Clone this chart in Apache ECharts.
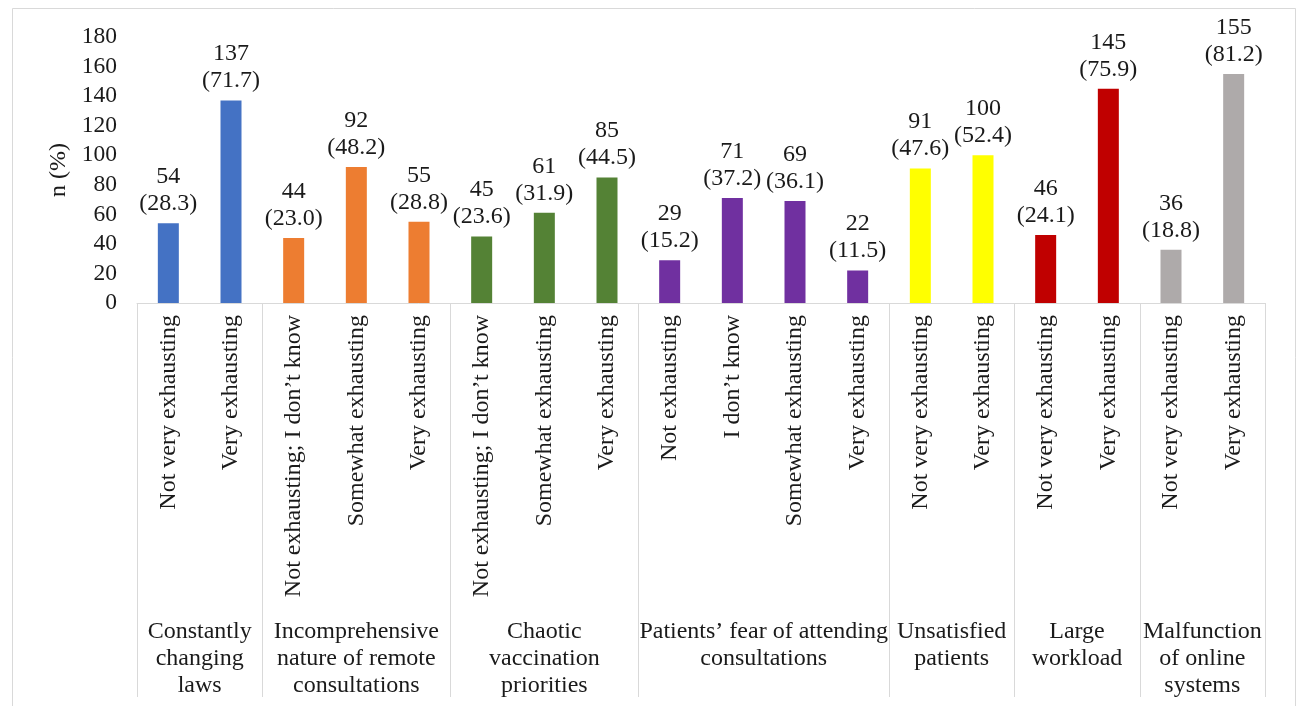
<!DOCTYPE html>
<html>
<head>
<meta charset="utf-8">
<script src="https://cdn.jsdelivr.net/npm/echarts@6/dist/echarts.min.js"></script>
<style>
html,body{margin:0;padding:0;background:#fff;}
#chart{width:1298px;height:706px;}
</style>
</head>
<body>
<div id="chart"></div>
<script>
const subLabels = [
  'Not very exhausting', 'Very exhausting',
  'Not exhausting; I don\u2019t know', 'Somewhat exhausting', 'Very exhausting',
  'Not exhausting; I don\u2019t know', 'Somewhat exhausting', 'Very exhausting',
  'Not exhausting', 'I don\u2019t know', 'Somewhat exhausting', 'Very exhausting',
  'Not very exhausting', 'Very exhausting',
  'Not very exhausting', 'Very exhausting',
  'Not very exhausting', 'Very exhausting'
];
const counts = [54, 137, 44, 92, 55, 45, 61, 85, 29, 71, 69, 22, 91, 100, 46, 145, 36, 155];
const percents = ['28.3', '71.7', '23.0', '48.2', '28.8', '23.6', '31.9', '44.5', '15.2', '37.2', '36.1', '11.5', '47.6', '52.4', '24.1', '75.9', '18.8', '81.2'];
const groupNames = [
  'Constantly\nchanging\nlaws',
  'Incomprehensive\nnature of remote\nconsultations',
  'Chaotic\nvaccination\npriorities',
  'Patients\u2019 fear of attending\nconsultations',
  'Unsatisfied\npatients',
  'Large\nworkload',
  'Malfunction\nof online\nsystems'
];
const groupSizes = [2, 3, 3, 4, 2, 2, 2];
const groupColors = ['#4472C4', '#ED7D31', '#548235', '#7030A0', '#FFFF00', '#C00000', '#AEAAAA'];
const yTicks = { min: 0, max: 180, interval: 20 };

const FONT = 'Liberation Serif';
const TXT = '#1a1a1a';
const LINE = '#d9d9d9';

const barColors = [];
groupSizes.forEach((n, g) => { for (let i = 0; i < n; i++) barColors.push(groupColors[g]); });

const chart = echarts.init(document.getElementById('chart'));
chart.setOption({
  animation: false,
  backgroundColor: '#fff',
  grid: { left: 137, right: 33, top: 37, bottom: 403, containLabel: false },
  xAxis: {
    type: 'category',
    data: subLabels,
    axisTick: { show: false },
    axisLine: { lineStyle: { color: LINE, width: 1 } },
    axisLabel: {
      rotate: 90, interval: 0, margin: 12,
      fontFamily: FONT, fontSize: 24, color: TXT
    }
  },
  yAxis: {
    type: 'value',
    min: yTicks.min, max: yTicks.max, interval: yTicks.interval,
    splitLine: { show: false },
    axisLine: { show: false },
    axisTick: { show: false },
    axisLabel: { margin: 20, fontFamily: FONT, fontSize: 23.5, color: TXT },
    name: 'n (%)',
    nameLocation: 'middle',
    nameGap: 59,
    nameTextStyle: { fontFamily: FONT, fontSize: 24, color: TXT }
  },
  series: [{
    type: 'bar',
    barWidth: 21,
    data: counts.map((v, i) => ({ value: v, itemStyle: { color: barColors[i] } })),
    label: {
      show: true,
      position: 'top',
      distance: 6,
      fontFamily: FONT, fontSize: 24, color: TXT, lineHeight: 27,
      formatter: p => p.value + '\n(' + percents[p.dataIndex] + ')'
    }
  }]
});

function drawGroups() {
  const x0 = chart.convertToPixel({ xAxisIndex: 0 }, 0);
  const x1 = chart.convertToPixel({ xAxisIndex: 0 }, 1);
  const slot = x1 - x0;
  const yBase = chart.convertToPixel({ yAxisIndex: 0 }, 0);
  const yEnd = 697;
  const graphics = [];
  graphics.push({
    type: 'rect', silent: true, z: -1,
    shape: { x: 12.5, y: 8.5, width: 1283, height: 710 },
    style: { fill: 'none', stroke: LINE, lineWidth: 1 }
  });
  let start = 0;
  const bounds = [start];
  groupSizes.forEach(n => { start += n; bounds.push(start); });
  bounds.forEach(b => {
    const x = Math.round(x0 - slot / 2 + b * slot) + 0.5;
    graphics.push({
      type: 'line', silent: true,
      shape: { x1: x, y1: yBase, x2: x, y2: yEnd },
      style: { stroke: LINE, lineWidth: 1 }
    });
  });
  for (let g = 0; g < groupSizes.length; g++) {
    const cx = x0 - slot / 2 + (bounds[g] + bounds[g + 1]) / 2 * slot;
    graphics.push({
      type: 'text', silent: true,
      x: cx, y: 618,
      style: {
        text: groupNames[g], fill: TXT,
        font: '24px "' + FONT + '"',
        align: 'center', verticalAlign: 'top', lineHeight: 27
      }
    });
  }
  chart.setOption({ graphic: graphics });
}
drawGroups();
</script>
</body>
</html>
